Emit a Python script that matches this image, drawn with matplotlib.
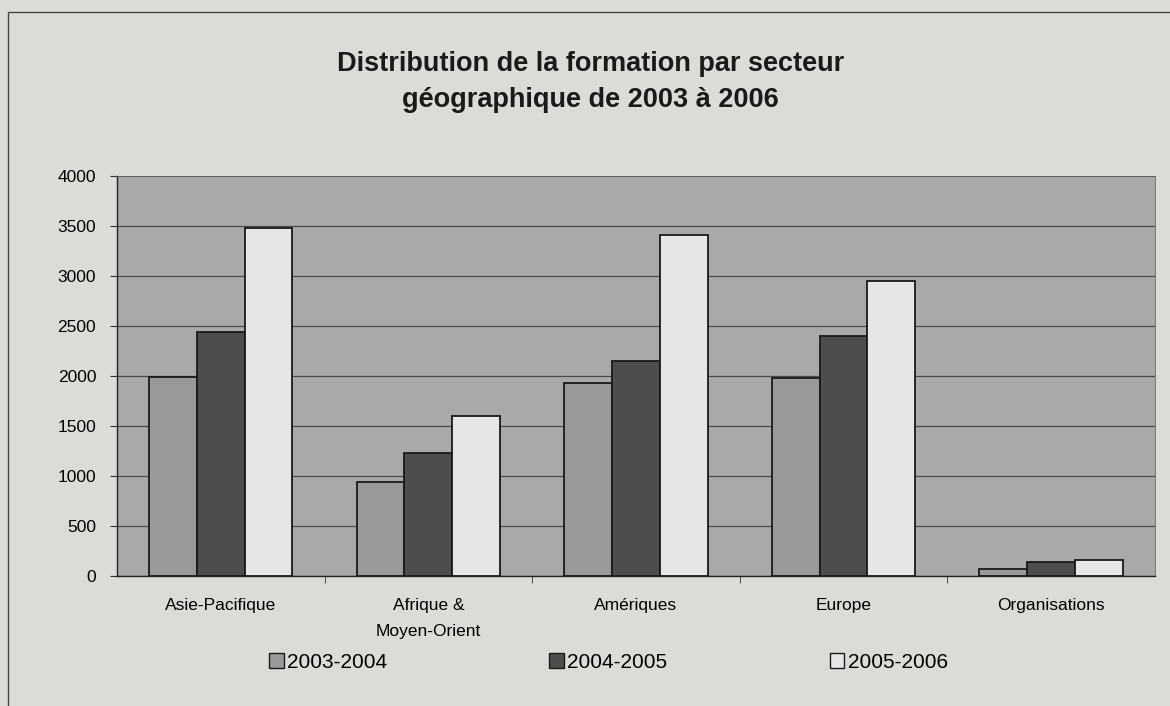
import numpy as np
import matplotlib.pyplot as plt
from matplotlib.patches import Patch, Rectangle

categories = ["Asie-Pacifique", "Afrique &\nMoyen-Orient", "Amériques", "Europe", "Organisations"]
series = ["2003-2004", "2004-2005", "2005-2006"]
v_2003 = [1990, 940, 1930, 1980, 70]
v_2004 = [2440, 1230, 2150, 2400, 140]
v_2005 = [3480, 1600, 3410, 2950, 165]
values = [v_2003, v_2004, v_2005]
colors = ["#999999", "#4d4d4d", "#e6e6e4"]

plt.rcParams["font.family"] = ["Liberation Sans", "DejaVu Sans"]

fig = plt.figure(figsize=(11.7, 7.06), dpi=100, facecolor="#dddbd7")
fig.patches.append(Rectangle((0.007, -0.01), 1.0, 0.993, transform=fig.transFigure,
                             fill=False, edgecolor="#444444", linewidth=1.0))

ax = fig.add_axes([0.1, 0.184, 0.887, 0.567])
ax.set_facecolor("#a9a9a9")

x = np.arange(len(categories))
w = 0.23
for i, (vals, c) in enumerate(zip(values, colors)):
    ax.bar(x + (i - 1) * w, vals, width=w, color=c, edgecolor="#1a1a1a",
           linewidth=1.3, label=series[i], zorder=3)

ax.set_xlim(-0.5, len(categories) - 0.5)
ax.set_ylim(0, 4000)
ax.set_yticks(range(0, 4001, 500))
ax.yaxis.grid(True, color="#4a4a4a", linewidth=0.9, zorder=0)
ax.set_axisbelow(True)

ax.set_xticks(x)
ax.set_xticklabels(categories, fontsize=12.5, linespacing=1.9)
ax.set_xticks(np.arange(0.5, len(categories) - 1, 1), minor=True)
ax.tick_params(axis="x", which="major", length=0, pad=16)
ax.tick_params(axis="x", which="minor", length=5, color="#333333")
ax.tick_params(axis="y", labelsize=12.5, length=5, color="#333333", pad=10)

for side in ["top", "right"]:
    ax.spines[side].set_color("#666666")
    ax.spines[side].set_linewidth(0.6)
for side in ["left", "bottom"]:
    ax.spines[side].set_color("#222222")
    ax.spines[side].set_linewidth(1.0)

fig.text(0.505, 0.884, "Distribution de la formation par secteur\ngéographique de 2003 à 2006",
         ha="center", va="center", fontsize=19.5, fontweight="bold", linespacing=1.5,
         color="#1a1a1a")

handles = [Patch(facecolor=c, edgecolor="#1a1a1a", linewidth=1.0, label=s)
           for c, s in zip(colors, series)]
fig.legend(handles=handles, loc="center", bbox_to_anchor=(0.52, 0.062), ncol=3,
           frameon=False, fontsize=15, columnspacing=7.8, handlelength=0.7,
           handleheight=0.7, handletextpad=0.15)

fig.savefig("out.png", dpi=100, facecolor=fig.get_facecolor())
